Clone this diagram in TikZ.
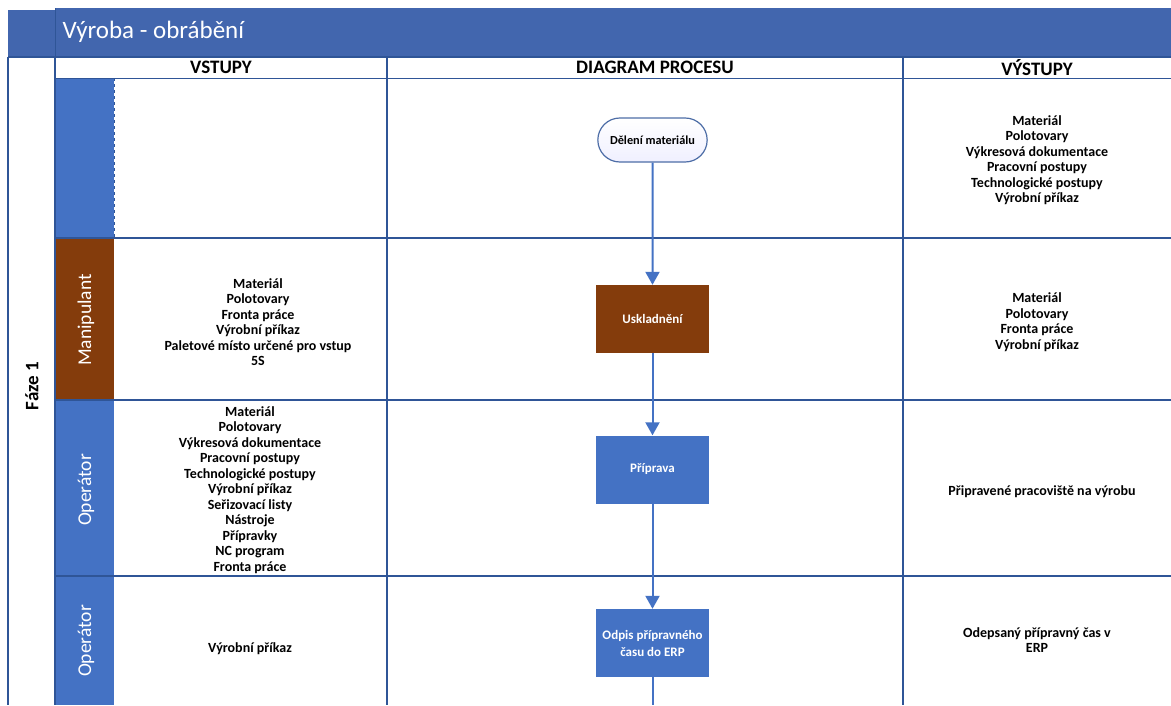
\documentclass[tikz,border=0pt]{standalone}
\usepackage{fontspec}
\setmainfont{Carlito}
\usetikzlibrary{arrows.meta,shapes.misc}

\definecolor{laneblue}{HTML}{4472C4}
\definecolor{lanebrown}{HTML}{843C0C}
\definecolor{titleblue}{HTML}{4266AE}
\definecolor{gridline}{HTML}{2F5597}
\definecolor{flowline}{HTML}{4472C4}

\tikzset{
  grid/.style={draw=gridline, line width=1.5pt},
  lanetag/.style={rotate=90, text=white, font=\fontsize{19.5}{22}\selectfont},
  colhead/.style={font=\bfseries\fontsize{19}{21}\selectfont},
  info/.style={align=center, font=\bfseries\fontsize{14}{15.5}\selectfont},
  terminal/.style={rounded rectangle, draw=gridline!85, line width=1.2pt,
    top color=white, bottom color=blue!6, minimum width=116pt, minimum height=44pt,
    font=\bfseries\fontsize{12.3}{14}\selectfont},
  procbox/.style={draw=none, minimum width=113pt, minimum height=68pt, text=white,
    align=center, font=\bfseries\fontsize{13}{17}\selectfont},
  flow/.style={draw=flowline, line width=2pt, -{Triangle[width=14pt,length=13pt]}}
}

\begin{document}
\begin{tikzpicture}[x=1pt,y=-1pt]
\useasboundingbox (0,0) rectangle (1171,705);
\fill[white] (0,0) rectangle (1171,705);

% title band
\fill[titleblue] (8,10) rectangle (55,57);
\fill[titleblue] (55,8) rectangle (1171,57);
\draw[gridline, line width=1pt] (55,8) -- (55,57);
\node[anchor=west, text=white, font=\fontsize{25}{27}\selectfont] (title) at (59,32) {Výroba - obrábění};

% lane tags
\fill[laneblue]  (55,78)  rectangle (114,238);
\fill[lanebrown] (55,238) rectangle (114,400);
\fill[laneblue]  (55,400) rectangle (114,576);
\fill[laneblue]  (55,576) rectangle (114,705);
\node[lanetag] (tagman) at (86,320) {Manipulant};
\node[lanetag] (tagop1) at (86,490) {Operátor};
\node[lanetag] (tagop2) at (86,641) {Operátor};
\node[rotate=90, font=\bfseries\fontsize{19}{21}\selectfont] (phase) at (32,386) {Fáze 1};

% grid
\draw[grid] (8,57) -- (8,705);
\draw[grid] (55,57) -- (55,705);
\draw[grid] (387,57) -- (387,705);
\draw[grid] (903,57) -- (903,705);
\draw[grid] (8,57) -- (1171,57);
\draw[grid, line width=1pt] (55,78) -- (1171,78);
\draw[grid] (55,238) -- (1171,238);
\draw[grid] (55,400) -- (1171,400);
\draw[grid] (55,576) -- (1171,576);
\draw[gridline, dashed, line width=0.8pt] (114,78) -- (114,238);

% column heads
\node[colhead] (hin) at (221,67.5) {VSTUPY};
\node[colhead] (hproc) at (655,67.5) {DIAGRAM PROCESU};
\node[colhead] (hout) at (1037,67.5) {VÝSTUPY};

% process
\node[terminal] (s1) at (652.5,140) {Dělení materiálu};
\node[procbox, fill=lanebrown] (s2) at (652.5,319) {Uskladnění};
\node[procbox, fill=laneblue] (s3) at (652.5,469.5) {Příprava};
\node[procbox, fill=laneblue] (s4) at (652.5,643) {Odpis přípravného\\času do ERP};
\coordinate (tail) at (652.5,705);
\draw[flow] (s1) -- (s2);
\draw[flow] (s2) -- (s3);
\draw[flow] (s3) -- (s4);
\draw[draw=flowline, line width=2pt] (s4) -- (tail);

% inputs
\node[info] (in2) at (258,322) {Materiál\\Polotovary\\Fronta práce\\Výrobní příkaz\\Paletové místo určené pro vstup\\5S};
\node[info] (in3) at (250,490) {Materiál\\Polotovary\\Výkresová dokumentace\\Pracovní postupy\\Technologické postupy\\Výrobní příkaz\\Seřizovací listy\\Nástroje\\Přípravky\\NC program\\Fronta práce};
\node[info] (in4) at (250,649) {Výrobní příkaz};

% outputs
\node[info] (out1) at (1037,160) {Materiál\\Polotovary\\Výkresová dokumentace\\Pracovní postupy\\Technologické postupy\\Výrobní příkaz};
\node[info] (out2) at (1037,322) {Materiál\\Polotovary\\Fronta práce\\Výrobní příkaz};
\node[info] (out3) at (1042,492) {Připravené pracoviště na výrobu};
\node[info] (out4) at (1037,640) {Odepsaný přípravný čas v\\ERP};
\end{tikzpicture}
\end{document}
